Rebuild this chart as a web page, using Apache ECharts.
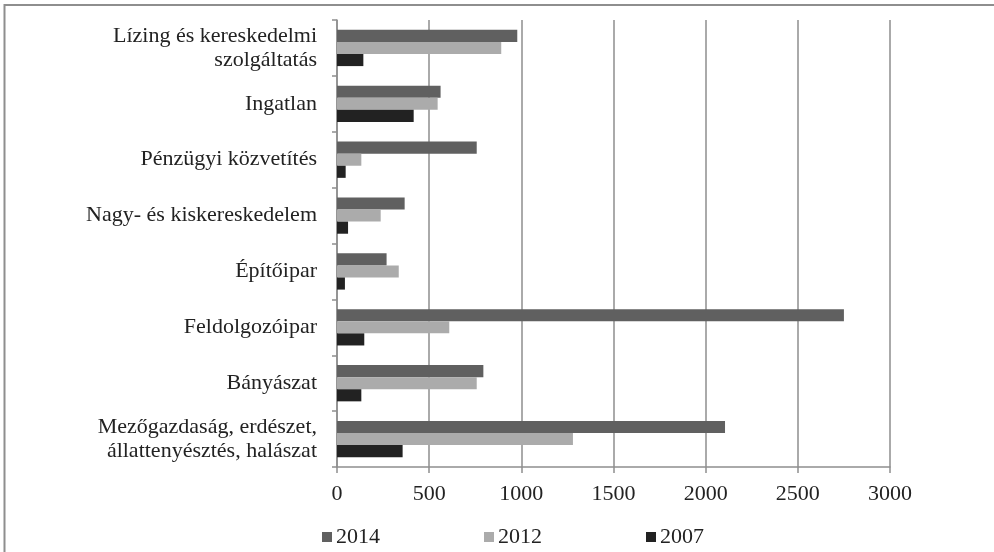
<!DOCTYPE html>
<html>
<head>
<meta charset="utf-8">
<title>Ágazatok</title>
<script src="https://cdn.jsdelivr.net/npm/echarts@6/dist/echarts.min.js"></script>
<style>
  html, body { margin: 0; padding: 0; background: #fff; }
  #chart { width: 994px; height: 552px; }
</style>
</head>
<body>
<div id="chart"></div>
<script>
  // kategóriák alulról felfelé
  var categories = [
    'Mezőgazdaság, erdészet,\nállattenyésztés, halászat',
    'Bányászat',
    'Feldolgozóipar',
    'Építőipar',
    'Nagy- és kiskereskedelem',
    'Pénzügyi közvetítés',
    'Ingatlan',
    'Lízing és kereskedelmi\nszolgáltatás'
  ];
  var data2014 = [2105, 794, 2750, 269, 367, 758, 562, 978];
  var data2012 = [1280, 758, 609, 335, 237, 132, 546, 891];
  var data2007 = [356, 132, 148, 43, 60, 47, 416, 143];
  var xTicks = [0, 500, 1000, 1500, 2000, 2500, 3000];

  var font = "'Liberation Serif', 'DejaVu Serif', serif";
  var gridColor = '#8e8e8e';

  var chart = echarts.init(document.getElementById('chart'));

  var option = {
    animation: false,
    backgroundColor: '#fff',
    textStyle: { fontFamily: font },
    graphic: [{
      type: 'rect',
      shape: { x: 4.5, y: 5, width: 1000, height: 560 },
      style: { fill: 'none', stroke: gridColor, lineWidth: 2 },
      silent: true
    }],
    grid: { left: 337, right: 104, top: 20, bottom: 85 },
    legend: {
      data: ['2014', '2012', '2007'],
      left: 317,
      top: 521,
      itemWidth: 10,
      itemHeight: 10,
      itemGap: 104,
      icon: 'rect',
      textStyle: { fontFamily: font, fontSize: 22, color: '#222', padding: [0, 0, 0, -1] }
    },
    xAxis: {
      type: 'value',
      min: xTicks[0],
      max: xTicks[xTicks.length - 1],
      interval: 500,
      axisLine: { show: true, lineStyle: { color: gridColor, width: 1.5 } },
      axisTick: { show: true, length: 6, lineStyle: { color: gridColor, width: 1.5 } },
      axisLabel: {
        fontFamily: font, fontSize: 22, color: '#222', margin: 16,
        formatter: function (v) { return String(v); }
      },
      splitLine: { show: true, lineStyle: { color: gridColor, width: 1.5 } }
    },
    yAxis: {
      type: 'category',
      data: categories,
      axisLine: { show: true, lineStyle: { color: gridColor, width: 1.5 } },
      axisTick: { show: true, length: 5, lineStyle: { color: gridColor, width: 1.5 } },
      axisLabel: {
        fontFamily: font, fontSize: 22, color: '#222', margin: 20,
        lineHeight: 24, align: 'right', padding: [7, 0, 0, 0]
      },
      splitLine: { show: false }
    },
    series: [
      {
        name: '2014', type: 'bar', data: data2014,
        itemStyle: { color: '#606060' },
        barGap: '0%', barCategoryGap: '35%'
      },
      {
        name: '2012', type: 'bar', data: data2012,
        itemStyle: { color: '#ababab' },
        barGap: '0%', barCategoryGap: '35%'
      },
      {
        name: '2007', type: 'bar', data: data2007,
        itemStyle: { color: '#222222' },
        barGap: '0%', barCategoryGap: '35%'
      }
    ]
  };

  chart.setOption(option);
</script>
</body>
</html>
